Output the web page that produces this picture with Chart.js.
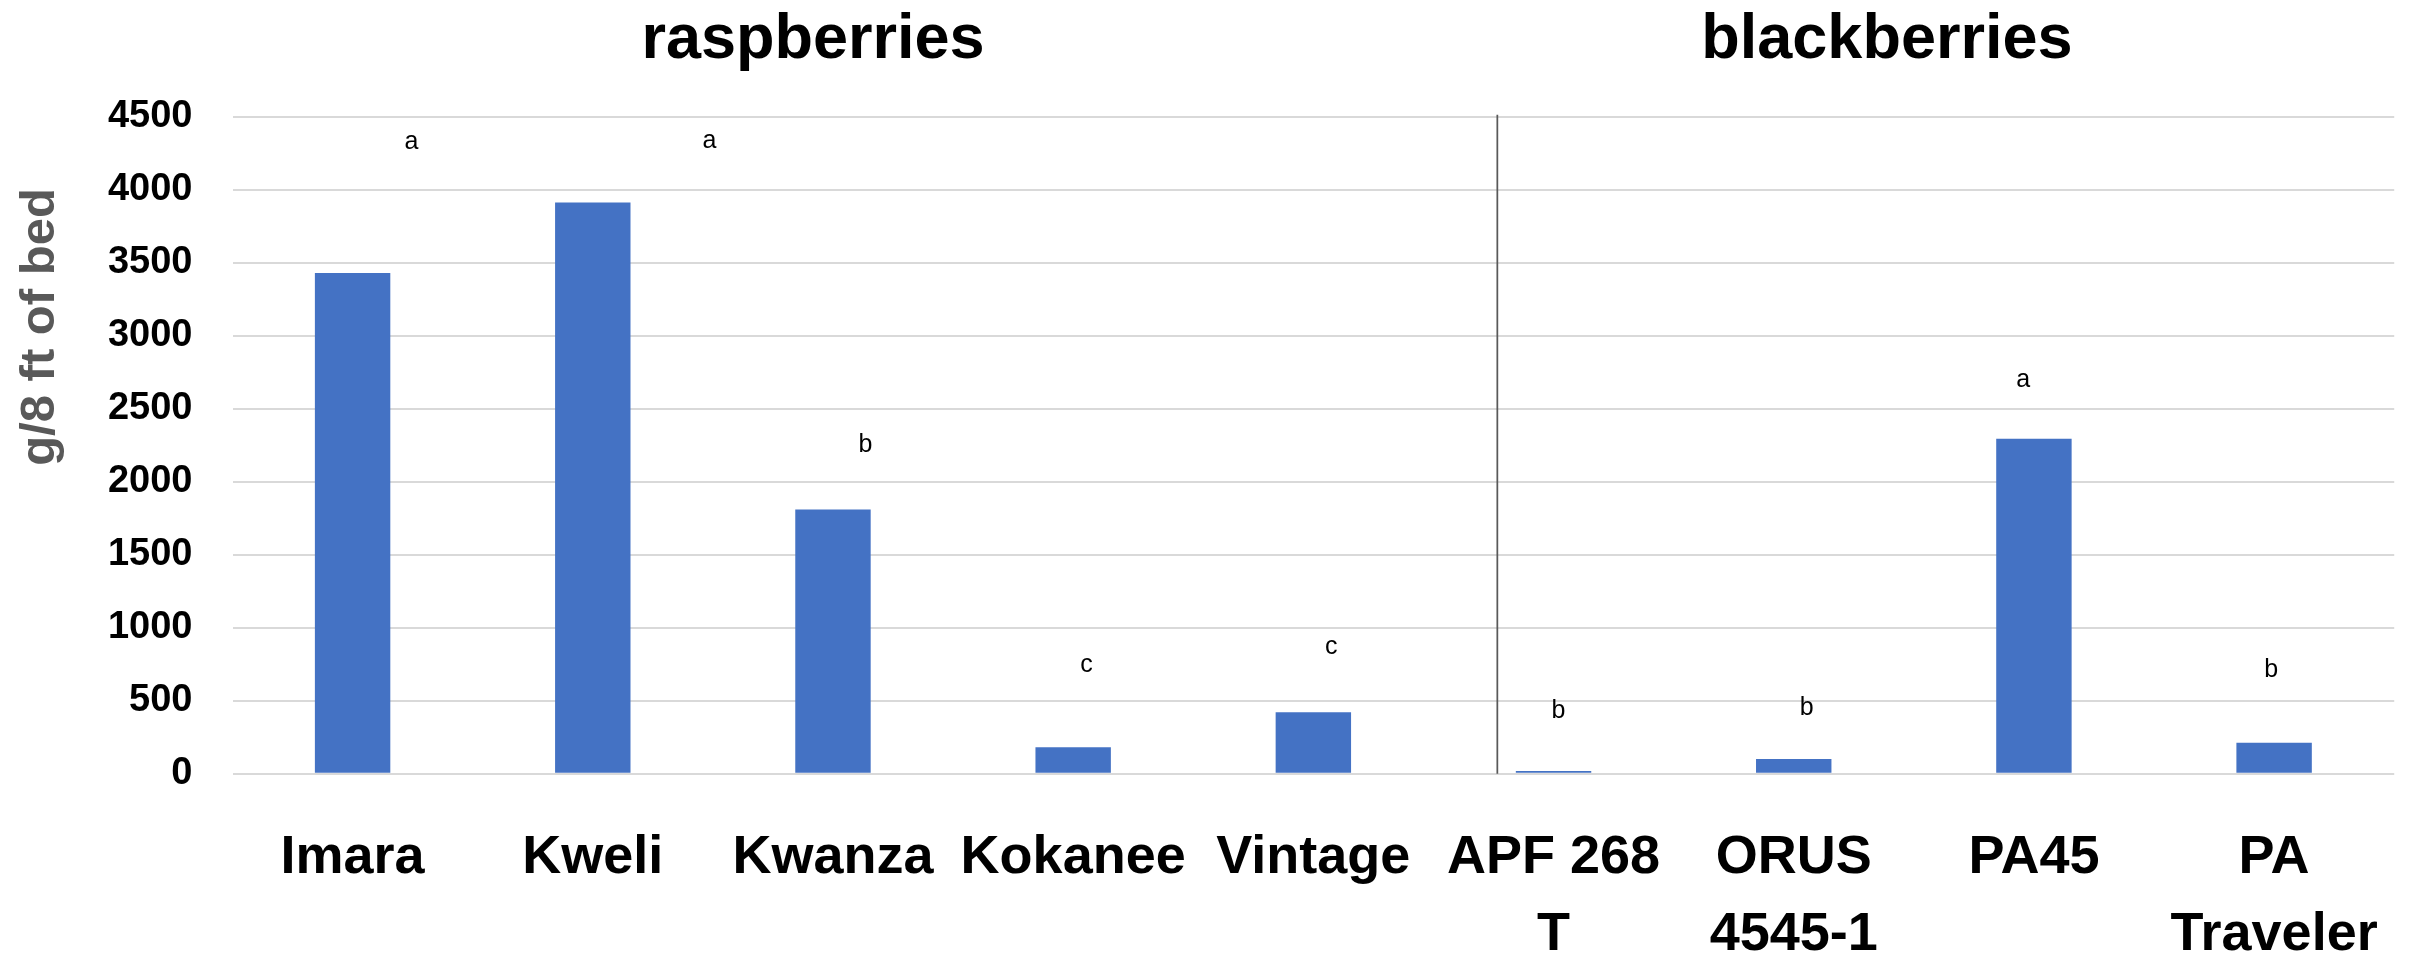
<!DOCTYPE html>
<html>
<head>
<meta charset="utf-8">
<script src="https://cdn.jsdelivr.net/npm/chart.js@4/dist/chart.umd.min.js"></script>
<style>
    html, body { margin: 0; padding: 0; background: #ffffff; }
    canvas { display: block; }
</style>
</head>
<body>
<canvas id="berryChart" width="2425" height="957"></canvas>
<script>
const categories = ['Imara', 'Kweli', 'Kwanza', 'Kokanee', 'Vintage', ['APF 268', 'T'], ['ORUS', '4545-1'], 'PA45', ['PA', 'Traveler']];
const yields = [3430, 3912, 1810, 181, 421, 19, 101, 2295, 212];

// significance letters, placed by hand in the original
const letters = ['a', 'a', 'b', 'c', 'c', 'b', 'b', 'a', 'b'];
const letterHeights = [4324, 4330, 2249, 745, 869, 430, 447, 2699, 711];
const letterShifts = [0.245, 0.486, 0.135, 0.056, 0.075, 0.02, 0.054, -0.045, -0.012];

const groupTitles = ['raspberries', 'blackberries'];
const groupCenters = [1.917, 6.388];
const dividerAt = 4.766;

const yMin = 0;
const yMax = 4500;
const yStep = 500;
const yTitle = 'g/8 ft of bed';

const FONT = "'Liberation Sans', Arial, sans-serif";

const catPixel = (scale, v) => {
    const i = Math.floor(v);
    const p0 = scale.getPixelForValue(i);
    const p1 = scale.getPixelForValue(i + 1);
    return p0 + (v - i) * (p1 - p0);
};

const decorations = {
    id: 'decorations',
    afterDatasetsDraw(chart) {
        const { ctx, scales: { x, y } } = chart;
        ctx.save();

        // divider between the two berry groups
        const dx = catPixel(x, dividerAt);
        ctx.strokeStyle = '#595959';
        ctx.lineWidth = 1.75;
        ctx.beginPath();
        ctx.moveTo(dx, y.getPixelForValue(yMax) - 2);
        ctx.lineTo(dx, y.getPixelForValue(yMin));
        ctx.stroke();

        // letters
        ctx.fillStyle = '#000000';
        ctx.font = '25px ' + FONT;
        ctx.textAlign = 'center';
        ctx.textBaseline = 'middle';
        letters.forEach((l, i) => {
            ctx.fillText(l, catPixel(x, i + letterShifts[i]), y.getPixelForValue(letterHeights[i]));
        });

        // group titles
        ctx.font = 'bold 63px ' + FONT;
        ctx.textBaseline = 'alphabetic';
        groupTitles.forEach((t, i) => {
            ctx.fillText(t, catPixel(x, groupCenters[i]), 58);
        });

        // y axis title
        ctx.fillStyle = '#595959';
        ctx.font = 'bold 49px ' + FONT;
        ctx.textBaseline = 'middle';
        ctx.translate(40, 327);
        ctx.rotate(-Math.PI / 2);
        ctx.fillText(yTitle, 0, 0);
        ctx.restore();
    }
};

new Chart(document.getElementById('berryChart'), {
    type: 'bar',
    data: {
        labels: categories,
        datasets: [{
            data: yields,
            backgroundColor: '#4472C4',
            borderWidth: 0,
            barPercentage: 0.314,
            categoryPercentage: 1
        }]
    },
    options: {
        responsive: false,
        animation: false,
        devicePixelRatio: 1,
        layout: {
            padding: { left: 0, right: 23.5, top: 116.7, bottom: 0 }
        },
        plugins: {
            legend: { display: false },
            tooltip: { enabled: false },
            title: { display: false }
        },
        scales: {
            x: {
                grid: { display: false, drawTicks: false },
                border: { display: false },
                ticks: {
                    color: '#000000',
                    padding: 46,
                    maxRotation: 0,
                    autoSkip: false,
                    font: { family: FONT, size: 54, weight: 'bold', lineHeight: 1.426 }
                },
                afterFit(scale) { scale.height = 183.3; }
            },
            y: {
                min: yMin,
                max: yMax,
                grid: { color: '#d9d9d9', lineWidth: 2, drawTicks: false },
                border: { display: false },
                ticks: {
                    stepSize: yStep,
                    color: '#000000',
                    padding: 40,
                    font: { family: FONT, size: 38, weight: 'bold' },
                    callback: (v) => String(v)
                },
                afterFit(scale) { scale.width = 232.5; }
            }
        }
    },
    plugins: [decorations]
});
</script>
</body>
</html>
